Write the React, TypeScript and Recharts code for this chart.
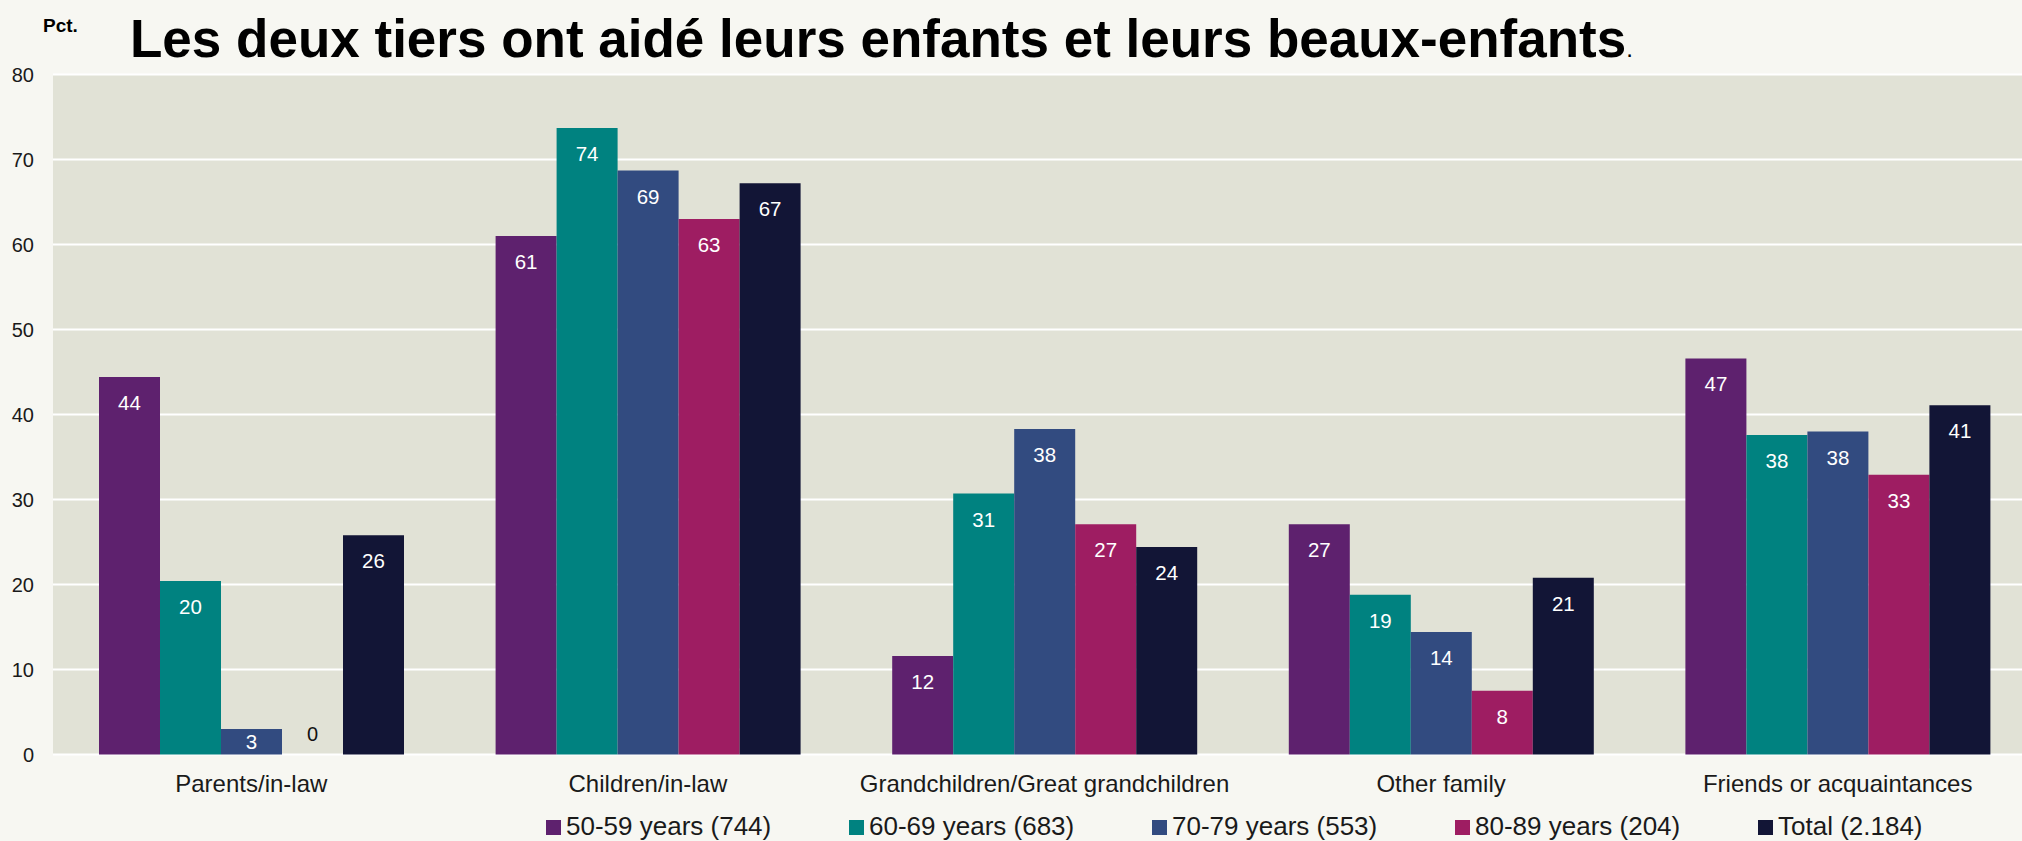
import React from 'react';
import { BarChart, Bar, XAxis, YAxis, CartesianGrid, Legend, LabelList } from 'recharts';

const categories = [
  'Parents/in-law',
  'Children/in-law',
  'Grandchildren/Great grandchildren',
  'Other family',
  'Friends or acquaintances',
];
const years5059 = [44.4, 61.0, 11.6, 27.1, 46.6];
const years6069 = [20.4, 73.7, 30.7, 18.8, 37.6];
const years7079 = [3.0, 68.7, 38.3, 14.4, 38.0];
const years8089 = [0, 63.0, 27.1, 7.5, 32.9];
const totalAll = [25.8, 67.2, 24.4, 20.8, 41.1];

const seriesNames = [
  '50-59 years (744)',
  '60-69 years (683)',
  '70-79 years (553)',
  '80-89 years (204)',
  'Total (2.184)',
];
const seriesKeys = ['s5059', 's6069', 's7079', 's8089', 'total'];
const seriesValues = [years5059, years6069, years7079, years8089, totalAll];
const seriesColors = ['#5e216e', '#008280', '#324b80', '#9e1d62', '#121536'];

const yTicks = [0, 10, 20, 30, 40, 50, 60, 70, 80];

const titleText = 'Les deux tiers ont aidé leurs enfants et leurs beaux-enfants';
const unitText = 'Pct.';

const data = categories.map((c, i) => {
  const row: any = { category: c };
  seriesKeys.forEach((k, j) => {
    row[k] = seriesValues[j][i];
  });
  return row;
});

const FONT = '"Liberation Sans", Arial, Helvetica, sans-serif';

const CatTick = (props: any) => {
  const { x, y, payload } = props;
  return (
    <text x={x} y={y} dy={37.5} textAnchor="middle" fontSize={24} fill="#1a1a1a" fontFamily={FONT}>
      {payload.value}
    </text>
  );
};

const renderLabel = (props: any) => {
  const { x, y, width, height, value } = props;
  const cx = Number(x) + Number(width) / 2;
  const h = Math.abs(Number(height));
  const v = Number(value);
  if (!v) {
    return (
      <text x={cx} y={Number(y) + Number(height) - 21} textAnchor="middle" dominantBaseline="central" fontSize={20} fill="#111" fontFamily={FONT}>
        {0}
      </text>
    );
  }
  const cy = h < 51 ? Number(y) + h / 2 : Number(y) + 25.5;
  return (
    <text x={cx} y={cy} textAnchor="middle" dominantBaseline="central" fontSize={20.5} fill="#ffffff" fontFamily={FONT}>
      {Math.round(v)}
    </text>
  );
};

const renderLegend = (props: any) => {
  const { payload } = props;
  return (
    <svg width={2022} height={841} style={{ position: 'absolute', left: 0, top: 0, overflow: 'visible', pointerEvents: 'none' }}>
      {(payload || []).map((p: any, i: number) => (
        <g key={i}>
          <rect x={546 + 303 * i} y={820} width={15} height={15} fill={p.color} />
          <text x={566 + 303 * i} y={835} fontSize={26} fill="#1a1a1a" fontFamily={FONT}>
            {p.value}
          </text>
        </g>
      ))}
    </svg>
  );
};

const zeroMin = (v: any) => (Number(v) === 0 ? 0.01 : 0);

export default function App() {
  return (
    <div
      style={{
        position: 'absolute',
        left: 0,
        top: 0,
        width: 2022,
        height: 841,
        overflow: 'hidden',
        background: '#f7f7f2',
        fontFamily: FONT,
      }}
    >
      <BarChart
        width={2040}
        height={841}
        data={data}
        margin={{ top: 74.5, right: 4, bottom: 46.5, left: 0 }}
        barGap={0}
        barSize={61}
        style={{ fontFamily: FONT }}
      >
        <CartesianGrid vertical={false} stroke="#ffffff" strokeWidth={2} fill="#e1e2d6" fillOpacity={1} />
        <XAxis
          dataKey="category"
          axisLine={false}
          tickLine={false}
          tickSize={0}
          tickMargin={0}
          height={40}
          interval={0}
          tick={<CatTick />}
        />
        <YAxis
          domain={[0, 80]}
          ticks={yTicks}
          width={53}
          axisLine={false}
          tickLine={false}
          tickSize={0}
          tickMargin={19}
          interval={0}
          tick={{ fontSize: 20, fill: '#1a1a1a', fontFamily: FONT }}
        />
        <Legend
          content={renderLegend}
          wrapperStyle={{ left: 0, top: 0, width: 0, height: 0, bottom: 'auto' }}
        />
        {seriesKeys.map((k, j) => (
          <Bar
            key={k}
            dataKey={k}
            name={seriesNames[j]}
            fill={seriesColors[j]}
            minPointSize={zeroMin}
            isAnimationActive={false}
          >
            <LabelList dataKey={k} content={renderLabel} />
          </Bar>
        ))}
      </BarChart>
      <svg
        width={2022}
        height={841}
        style={{ position: 'absolute', left: 0, top: 0, pointerEvents: 'none' }}
      >
        <text x={43} y={32} fontSize={19} fontWeight="bold" fill="#000" fontFamily={FONT}>
          {unitText}
        </text>
        <text x={130} y={57} fontSize={53} fontWeight="bold" fill="#000" fontFamily={FONT}>
          {titleText}
          <tspan fontSize={24} fontWeight="normal">.</tspan>
        </text>
      </svg>
    </div>
  );
}
